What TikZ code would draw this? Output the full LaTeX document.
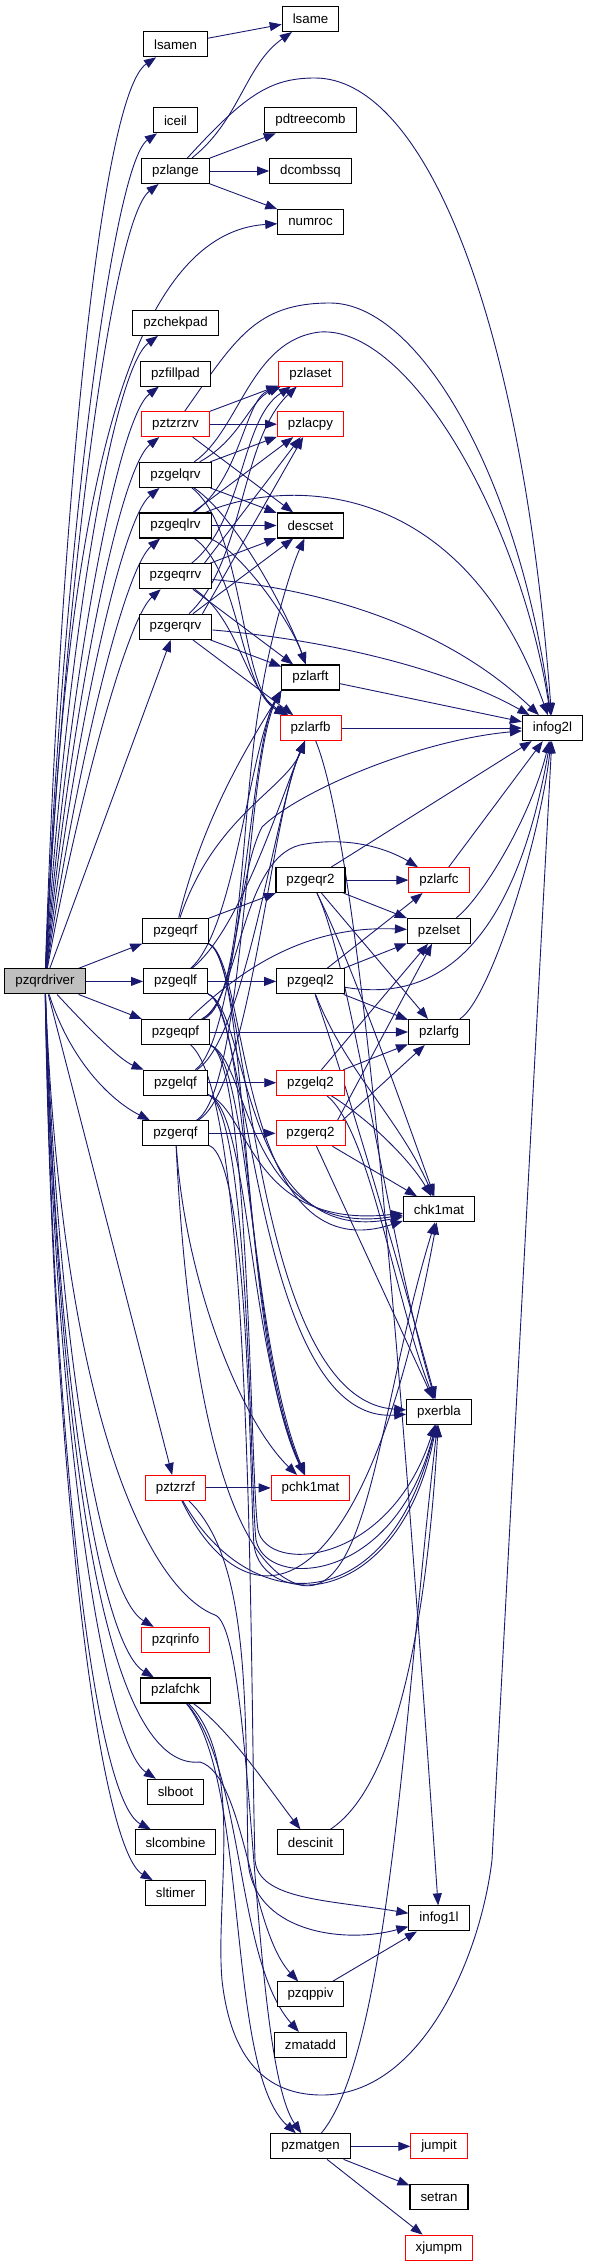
\documentclass[tikz,border=0pt]{standalone}
\usepackage{fontspec}
\setmainfont{Liberation Sans}
\usepackage{tikz}
\usetikzlibrary{arrows.meta,positioning,backgrounds}
\definecolor{callarrow}{HTML}{191970}
\definecolor{truncated}{HTML}{FF0000}
\definecolor{rootfill}{HTML}{BFBFBF}

\begin{document}
\begin{tikzpicture}[x=1pt,y=-1pt,
  fn/.style={draw=black,fill=white,line width=1.1pt,minimum height=25pt,
             inner xsep=10.5pt,inner ysep=0pt,font=\fontsize{13.3}{16}\selectfont},
  fnred/.style={fn,draw=truncated,line width=0.9pt},
  fnroot/.style={fn,fill=rootfill},
  arr/.style={-{Triangle[length=12pt,width=9pt]},draw=callarrow,line width=0.9pt}
]
\useasboundingbox (0,0) rectangle (596,2267);
% root
\node[fnroot] (pzqrdriver) at (45,981.4) {pzqrdriver};
% first level
\node[fn] (lsamen) at (175.5,44.3) {lsamen};
\node[fn] (iceil) at (175.5,120.3) {iceil};
\node[fn] (pzlange) at (175.5,171) {pzlange};
\node[fn] (pzchekpad) at (175.5,322.9) {pzchekpad};
\node[fn] (pzfillpad) at (175.5,373.6) {pzfillpad};
\node[fnred] (pztzrzrv) at (175.5,424.2) {pztzrzrv};
\node[fn] (pzgelqrv) at (175.5,474.9) {pzgelqrv};
\node[fn] (pzgeqlrv) at (175.5,525.5) {pzgeqlrv};
\node[fn] (pzgeqrrv) at (175.5,576.2) {pzgeqrrv};
\node[fn] (pzgerqrv) at (175.5,626.8) {pzgerqrv};
\node[fn] (pzgeqrf) at (175.5,930.7) {pzgeqrf};
\node[fn] (pzgeqlf) at (175.5,981.4) {pzgeqlf};
\node[fn] (pzgeqpf) at (175.5,1032) {pzgeqpf};
\node[fn] (pzgelqf) at (175.5,1082.7) {pzgelqf};
\node[fn] (pzgerqf) at (175.5,1133.3) {pzgerqf};
\node[fnred] (pztzrzf) at (175.5,1487.9) {pztzrzf};
\node[fnred] (pzqrinfo) at (175.5,1639.8) {pzqrinfo};
\node[fn] (pzlafchk) at (175.5,1690.5) {pzlafchk};
\node[fn] (slboot) at (175.5,1791.8) {slboot};
\node[fn] (slcombine) at (175.5,1842.4) {slcombine};
\node[fn] (sltimer) at (175.5,1893.1) {sltimer};
% second level
\node[fn] (lsame) at (310.5,19) {lsame};
\node[fn] (pdtreecomb) at (310.5,120.3) {pdtreecomb};
\node[fn] (dcombssq) at (310.5,171) {dcombssq};
\node[fn] (numroc) at (310.5,221.6) {numroc};
\node[fnred] (pzlaset) at (310.5,373.6) {pzlaset};
\node[fnred] (pzlacpy) at (310.5,424.2) {pzlacpy};
\node[fn] (descset) at (310.5,525.5) {descset};
\node[fn] (pzlarft) at (310.5,677.5) {pzlarft};
\node[fnred] (pzlarfb) at (310.5,728.1) {pzlarfb};
\node[fn] (pzgeqr2) at (310.5,880.1) {pzgeqr2};
\node[fn] (pzgeql2) at (310.5,981.4) {pzgeql2};
\node[fnred] (pzgelq2) at (310.5,1082.7) {pzgelq2};
\node[fnred] (pzgerq2) at (310.5,1133.3) {pzgerq2};
\node[fnred] (pchk1mat) at (310.5,1487.9) {pchk1mat};
\node[fn] (descinit) at (310.5,1842.4) {descinit};
\node[fn] (pzqppiv) at (310.5,1994.4) {pzqppiv};
\node[fn] (zmatadd) at (310.5,2045) {zmatadd};
\node[fn] (pzmatgen) at (310.5,2146.3) {pzmatgen};
% third level
\node[fnred] (pzlarfc) at (439,880.1) {pzlarfc};
\node[fn] (pzelset) at (439,930.7) {pzelset};
\node[fn] (pzlarfg) at (439,1032) {pzlarfg};
\node[fn] (chk1mat) at (439,1209.3) {chk1mat};
\node[fn] (pxerbla) at (439,1411.9) {pxerbla};
\node[fn] (infog1l) at (439,1918.4) {infog1l};
\node[fnred] (jumpit) at (439,2146.3) {jumpit};
\node[fn] (setran) at (439,2197) {setran};
\node[fnred] (xjumpm) at (439,2247.6) {xjumpm};
% last level
\node[fn] (infog2l) at (552.5,728.1) {infog2l};

\begin{scope}[on background layer]
% root: callees above
\draw[arr] (pzqrdriver) .. controls (60,520) and (100,95) .. (lsamen);
\draw[arr] (pzqrdriver) .. controls (62,560) and (112,165) .. (iceil);
\draw[arr] (pzqrdriver) .. controls (64,590) and (112,220) .. (pzlange);
\draw[arr] (pzqrdriver) .. controls (62,620) and (100,235) .. (numroc);
\draw[arr] (pzqrdriver) .. controls (66,650) and (112,370) .. (pzchekpad);
\draw[arr] (pzqrdriver) .. controls (68,690) and (116,420) .. (pzfillpad);
\draw[arr] (pzqrdriver) .. controls (70,720) and (118,470) .. (pztzrzrv);
\draw[arr] (pzqrdriver) .. controls (72,750) and (120,520) .. (pzgelqrv);
\draw[arr] (pzqrdriver) .. controls (74,780) and (123,570) .. (pzgeqlrv);
\draw[arr] (pzqrdriver) .. controls (76,810) and (126,620) .. (pzgeqrrv);
\draw[arr] (pzqrdriver) -- (pzgerqrv);
% root: callees alongside
\draw[arr] (pzqrdriver) -- (pzgeqrf);
\draw[arr] (pzqrdriver) -- (pzgeqlf);
\draw[arr] (pzqrdriver) -- (pzgeqpf);
\draw[arr] (pzqrdriver) .. controls (90,1030) and (120,1060) .. (pzgelqf);
\draw[arr] (pzqrdriver) .. controls (70,1060) and (110,1100) .. (pzgerqf);
\draw[arr] (pzqrdriver) -- (pztzrzf);
% root: callees below
\draw[arr] (pzqrdriver) .. controls (58,1350) and (100,1595) .. (pzqrinfo);
\draw[arr] (pzqrdriver) .. controls (56,1380) and (100,1645) .. (pzlafchk);
\draw[arr] (pzqrdriver) .. controls (55,1440) and (105,1745) .. (slboot);
\draw[arr] (pzqrdriver) .. controls (54,1460) and (95,1800) .. (slcombine);
\draw[arr] (pzqrdriver) .. controls (53,1490) and (100,1850) .. (sltimer);
\draw[arr] (pzqrdriver) .. controls (62,1550) and (120,1770) .. (200,1762)
  .. controls (245,1775) and (250,1930) .. (pzqppiv);
\draw[arr] (pzqrdriver) .. controls (62,1420) and (150,1590) .. (215,1615)
  .. controls (255,1630) and (250,2060) .. (pzmatgen);
% pzlange, lsamen
\draw[arr] (lsamen) -- (lsame);
\draw[arr] (pzlange) .. controls (240,120) and (245,65) .. (lsame);
\draw[arr] (pzlange) -- (pdtreecomb);
\draw[arr] (pzlange) -- (dcombssq);
\draw[arr] (pzlange) -- (numroc);
\draw[arr] (pzlange) .. controls (245,95) and (270,78) .. (315,78)
  .. controls (420,78) and (520,300) .. (infog2l);
% pztzrzrv
\draw[arr] (pztzrzrv) -- (pzlaset);
\draw[arr] (pztzrzrv) -- (pzlacpy);
\draw[arr] (pztzrzrv) -- (descset);
\draw[arr] (pztzrzrv) .. controls (235,340) and (255,303) .. (330,303)
  .. controls (420,303) and (520,480) .. (infog2l);
% pzgelqrv
\draw[arr] (pzgelqrv) .. controls (240,440) and (250,400) .. (pzlaset);
\draw[arr] (pzgelqrv) -- (pzlacpy);
\draw[arr] (pzgelqrv) -- (descset);
\draw[arr] (pzgelqrv) .. controls (240,520) and (290,620) .. (pzlarft);
\draw[arr] (pzgelqrv) .. controls (245,530) and (240,690) .. (pzlarfb);
\draw[arr] (pzgelqrv) .. controls (240,430) and (250,340) .. (320,332)
  .. controls (410,326) and (520,520) .. (infog2l);
% pzgeqlrv
\draw[arr] (pzgeqlrv) .. controls (240,480) and (245,400) .. (pzlaset);
\draw[arr] (pzgeqlrv) -- (pzlacpy);
\draw[arr] (pzgeqlrv) -- (descset);
\draw[arr] (pzgeqlrv) .. controls (240,550) and (290,620) .. (pzlarft);
\draw[arr] (pzgeqlrv) .. controls (240,570) and (240,690) .. (pzlarfb);
\draw[arr] (pzgeqlrv) .. controls (280,480) and (460,470) .. (infog2l);
% pzgeqrrv
\draw[arr] (pzgeqrrv) .. controls (245,520) and (240,420) .. (pzlaset);
\draw[arr] ([xshift=-8pt]pzgeqrrv.north east) -- (pzlacpy);
\draw[arr] (pzgeqrrv) -- (descset);
\draw[arr] (pzgeqrrv) -- (pzlarft);
\draw[arr] (pzgeqrrv) .. controls (240,620) and (245,690) .. (pzlarfb);
\draw[arr] (pzgeqrrv) .. controls (330,590) and (450,630) .. (infog2l);
% pzgerqrv
\draw[arr] (pzgerqrv) .. controls (245,560) and (240,440) .. (pzlaset);
\draw[arr] ([xshift=-10pt]pzgerqrv.north east) -- (pzlacpy);
\draw[arr] (pzgerqrv) -- (descset);
\draw[arr] (pzgerqrv) -- (pzlarft);
\draw[arr] (pzgerqrv) -- (pzlarfb);
\draw[arr] (pzgerqrv) .. controls (330,640) and (450,670) .. (infog2l);
% pzlarft, pzlarfb
\draw[arr] (pzlarft) -- (infog2l);
\draw[arr] (pzlarfb) -- (infog2l);
\draw[arr] (pzlarfb) .. controls (360,850) and (400,1350) .. (infog1l);
% pzgeqrf
\draw[arr] (pzgeqrf) -- (pzgeqr2);
\draw[arr] (pzgeqrf) .. controls (205,810) and (255,735) .. (pzlarft.south west);
\draw[arr] (pzgeqrf) .. controls (215,815) and (285,790) .. (pzlarfb);
\draw[arr] (pzgeqrf) .. controls (250,960) and (240,1340) .. (pchk1mat);
\draw[arr] (pzgeqrf) .. controls (250,960) and (235,1275) .. (chk1mat);
\draw[arr] (pzgeqrf) .. controls (250,960) and (250,1400) .. (pxerbla);
% pzgeqlf
\draw[arr] (pzgeqlf) -- (pzgeql2);
\draw[arr] (pzgeqlf) .. controls (235,930) and (250,745) .. (pzlarft.south west);
\draw[arr] (pzgeqlf) .. controls (240,930) and (280,800) .. (pzlarfb);
\draw[arr] (pzgeqlf) .. controls (250,1010) and (245,1340) .. (pchk1mat);
\draw[arr] (pzgeqlf) .. controls (250,1010) and (240,1250) .. (chk1mat);
\draw[arr] (pzgeqlf) .. controls (250,1010) and (255,1425) .. (pxerbla);
% pzgeqpf
\draw[arr] (pzgeqpf) -- (pzlarfg);
\draw[arr] (pzgeqpf) .. controls (240,1000) and (240,860) .. (300,845)
  .. controls (350,835) and (390,850) .. (pzlarfc);
\draw[arr] (pzgeqpf) .. controls (235,975) and (300,925) .. (pzelset);
\draw[arr] (pzgeqpf) .. controls (240,1000) and (235,880) .. (262,827)
  .. controls (300,790) and (420,740) .. (infog2l);
\draw[arr] (pzgeqpf) .. controls (245,1000) and (240,800) .. (262,690)
  .. controls (270,640) and (290,570) .. (descset);
\draw[arr] (pzgeqpf) .. controls (255,1100) and (250,1700) .. (255,1860)
  .. controls (258,1900) and (330,1900) .. (infog1l);
\draw[arr] (pzgeqpf) .. controls (250,1060) and (250,1340) .. (pchk1mat);
\draw[arr] (pzgeqpf) .. controls (250,1060) and (245,1240) .. (chk1mat);
\draw[arr] (pzgeqpf) .. controls (250,1060) and (250,1480) .. (258,1530)
  .. controls (268,1575) and (390,1565) .. (pxerbla);
% pzgelqf
\draw[arr] (pzgelqf) -- (pzgelq2);
\draw[arr] (pzgelqf) .. controls (240,1040) and (250,740) .. (pzlarft.south west);
\draw[arr] (pzgelqf) .. controls (245,1040) and (275,810) .. (pzlarfb);
\draw[arr] (pzgelqf) .. controls (250,1110) and (248,1350) .. (pchk1mat);
\draw[arr] (pzgelqf) .. controls (250,1110) and (250,1230) .. (chk1mat);
\draw[arr] (pzgelqf) .. controls (250,1110) and (250,1490) .. (256,1540)
  .. controls (266,1590) and (395,1585) .. (pxerbla);
% pzgerqf
\draw[arr] (pzgerqf) -- (pzgerq2);
\draw[arr] (pzgerqf) .. controls (245,1090) and (245,760) .. (pzlarft.south west);
\draw[arr] (pzgerqf) .. controls (250,1090) and (270,820) .. (pzlarfb);
\draw[arr] (pzgerqf) .. controls (185,1280) and (240,1420) .. (pchk1mat);
\draw[arr] (pzgerqf) .. controls (185,1330) and (215,1560) .. (300,1585)
  .. controls (370,1600) and (380,1400) .. (chk1mat);
\draw[arr] (pzgerqf) .. controls (250,1160) and (250,1500) .. (254,1545)
  .. controls (262,1610) and (400,1610) .. (pxerbla);
% pztzrzf
\draw[arr] (pztzrzf) -- (pchk1mat);
\draw[arr] (pztzrzf) .. controls (240,1620) and (360,1640) .. (chk1mat);
\draw[arr] (pztzrzf) .. controls (250,1620) and (390,1620) .. (pxerbla);
\draw[arr] (pztzrzf) .. controls (250,1560) and (245,1700) .. (248,1860)
  .. controls (252,1930) and (340,1945) .. (infog1l);
% pzgeqr2
\draw[arr] (pzgeqr2) -- (pzlarfc);
\draw[arr] (pzgeqr2) -- (pzelset);
\draw[arr] (pzgeqr2) -- (pzlarfg);
\draw[arr] (pzgeqr2) -- (infog2l);
\draw[arr] (pzgeqr2) .. controls (350,960) and (400,1100) .. (chk1mat);
\draw[arr] (pzgeqr2) .. controls (350,960) and (390,1250) .. (pxerbla);
% pzgeql2
\draw[arr] (pzgeql2) -- (pzlarfc);
\draw[arr] (pzgeql2) -- (pzelset);
\draw[arr] (pzgeql2) -- (pzlarfg);
\draw[arr] (pzgeql2) .. controls (420,1000) and (510,970) .. (infog2l);
\draw[arr] (pzgeql2) .. controls (345,1070) and (400,1120) .. (chk1mat);
\draw[arr] (pzgeql2) .. controls (345,1080) and (395,1250) .. (pxerbla);
% pzgelq2
\draw[arr] (pzgelq2) -- (pzelset);
\draw[arr] (pzgelq2) -- (pzlarfg);
\draw[arr] (pzgelq2) .. controls (370,1120) and (410,1160) .. (chk1mat);
\draw[arr] (pzgelq2) .. controls (370,1130) and (395,1300) .. (pxerbla);
% pzgerq2
\draw[arr] ([xshift=-8pt]pzgerq2.north east) -- (pzelset);
\draw[arr] ([xshift=-3pt]pzgerq2.north east) -- (pzlarfg);
\draw[arr] (pzgerq2) -- (chk1mat);
\draw[arr] (pzgerq2) -- (pxerbla);
% third level to infog2l
\draw[arr] (pzlarfc) -- (infog2l);
\draw[arr] (pzelset) .. controls (480,900) and (530,820) .. (infog2l);
\draw[arr] (pzlarfg) .. controls (490,1000) and (540,840) .. (infog2l);
% pzlafchk
\draw[arr] (pzlafchk) .. controls (230,1730) and (270,1790) .. (descinit);
\draw[arr] (pzlafchk) .. controls (245,1770) and (235,1960) .. (zmatadd);
\draw[arr] (pzlafchk) .. controls (250,1780) and (225,2070) .. (pzmatgen);
\draw[arr] (pzlafchk) .. controls (245,1760) and (215,1900) .. (222,1980)
  .. controls (232,2070) and (275,2095) .. (322,2095)
  .. controls (420,2095) and (480,1960) .. (492,1860) -- (infog2l);
% bottom
\draw[arr] (descinit) .. controls (390,1790) and (425,1650) .. (pxerbla);
\draw[arr] (pzqppiv) -- (infog1l);
\draw[arr] (pzmatgen) -- (jumpit);
\draw[arr] (pzmatgen) -- (setran);
\draw[arr] (pzmatgen) -- (xjumpm);
\draw[arr] (pzmatgen) .. controls (390,2050) and (405,1700) .. (pxerbla);
\end{scope}
\end{tikzpicture}
\end{document}
